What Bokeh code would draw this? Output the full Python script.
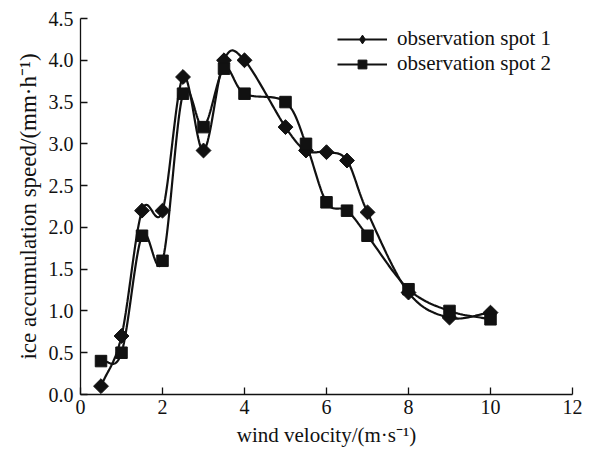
import numpy as np
from bokeh.plotting import figure
from bokeh.models import Range1d, Legend, LegendItem, FixedTicker, ColumnDataSource
from bokeh.embed import file_html
from bokeh.resources import INLINE

wind = [0.5, 1, 1.5, 2, 2.5, 3, 3.5, 4, 5, 5.5, 6, 6.5, 7, 8, 9, 10]
spot1 = [0.1, 0.7, 2.2, 2.2, 3.8, 2.92, 4.0, 4.0, 3.2, 2.92, 2.9, 2.8, 2.18, 1.22, 0.92, 0.98]
spot2 = [0.4, 0.5, 1.9, 1.6, 3.6, 3.2, 3.9, 3.6, 3.5, 3.0, 2.3, 2.2, 1.9, 1.26, 1.0, 0.9]
x_ticks = [0, 2, 4, 6, 8, 10, 12]
y_ticks = [0.0, 0.5, 1.0, 1.5, 2.0, 2.5, 3.0, 3.5, 4.0, 4.5]

FONT = "Liberation Serif"
INK = "#111111"


def smooth(xs, ys, n=24):
    # Catmull-Rom spline through the data points (drawing path only)
    P = np.column_stack([xs, ys]).astype(float)
    P = np.vstack([2 * P[0] - P[1], P, 2 * P[-1] - P[-2]])
    out = []
    t = np.linspace(0, 1, n, endpoint=False)[:, None]
    for i in range(1, len(P) - 2):
        p0, p1, p2, p3 = P[i - 1], P[i], P[i + 1], P[i + 2]
        seg = 0.5 * ((2 * p1) + (-p0 + p2) * t + (2 * p0 - 5 * p1 + 4 * p2 - p3) * t ** 2
                     + (-p0 + 3 * p1 - 3 * p2 + p3) * t ** 3)
        out.append(seg)
    out.append(P[-2][None, :])
    arr = np.vstack(out)
    return arr[:, 0], arr[:, 1]


p = figure(width=586, height=456, output_backend="svg", toolbar_location=None,
           x_range=Range1d(0, 12), y_range=Range1d(0, 4.5),
           min_border_left=80, min_border_top=18, min_border_right=14, min_border_bottom=62)
p.grid.visible = False
p.outline_line_color = None
p.background_fill_color = "white"

for ax in (p.xaxis[0], p.yaxis[0]):
    ax.major_tick_in = 7
    ax.major_tick_out = 0
    ax.minor_tick_line_color = None
    ax.axis_line_color = INK
    ax.axis_line_width = 1.3
    ax.major_tick_line_color = INK
    ax.major_tick_line_width = 1.3
    ax.major_label_text_font = FONT
    ax.major_label_text_font_size = "20px"
    ax.major_label_text_color = INK
    ax.axis_label_text_font = FONT
    ax.axis_label_text_font_style = "normal"
    ax.axis_label_text_color = INK

p.xaxis.axis_label_text_font_size = "21px"
p.yaxis.axis_label_text_font_size = "23px"
p.xaxis.ticker = FixedTicker(ticks=x_ticks)
p.yaxis.ticker = FixedTicker(ticks=y_ticks)
p.yaxis.major_label_overrides = {v: f"{v:.1f}" for v in y_ticks}
p.xaxis.axis_label = "wind velocity/(m·s⁻¹)"
p.yaxis.axis_label = "ice accumulation speed/(mm·h⁻¹)"
p.xaxis.major_label_standoff = 5
p.yaxis.major_label_standoff = 7
p.xaxis.axis_label_standoff = 6
p.yaxis.axis_label_standoff = 5

sx1, sy1 = smooth(wind, spot1)
sx2, sy2 = smooth(wind, spot2)
p.line(sx1, sy1, line_color=INK, line_width=2.2)
p.scatter(wind, spot1, marker="square", angle=np.pi / 4, size=10.5, fill_color=INK, line_color=INK)
p.line(sx2, sy2, line_color=INK, line_width=2.2)
p.scatter(wind, spot2, marker="square", size=11.5, fill_color=INK, line_color=INK)

# legend proxies: one point placed far outside the visible ranges, only their legend glyphs show
proxy = ColumnDataSource(data=dict(x=[-1000.0], y=[-1000.0]))
lg1a = p.line("x", "y", source=proxy, line_color=INK, line_width=2.2)
lg1b = p.scatter("x", "y", source=proxy, marker="diamond", size=13,
                 fill_color=INK, line_color=INK)
lg2a = p.line("x", "y", source=proxy, line_color=INK, line_width=2.2)
lg2b = p.scatter("x", "y", source=proxy, marker="square", size=7.5, fill_color=INK, line_color=INK)

legend = Legend(items=[LegendItem(label="observation spot 1", renderers=[lg1a, lg1b]),
                       LegendItem(label="observation spot 2", renderers=[lg2a, lg2b])],
                location=(257, 318), border_line_color=None, background_fill_alpha=0,
                label_text_font=FONT, label_text_font_size="21px", label_text_color=INK,
                glyph_width=50, glyph_height=22, label_height=22, spacing=0, label_standoff=10,
                margin=0, padding=0)
p.add_layout(legend)

open("out.html", "w").write(file_html(p, INLINE))
